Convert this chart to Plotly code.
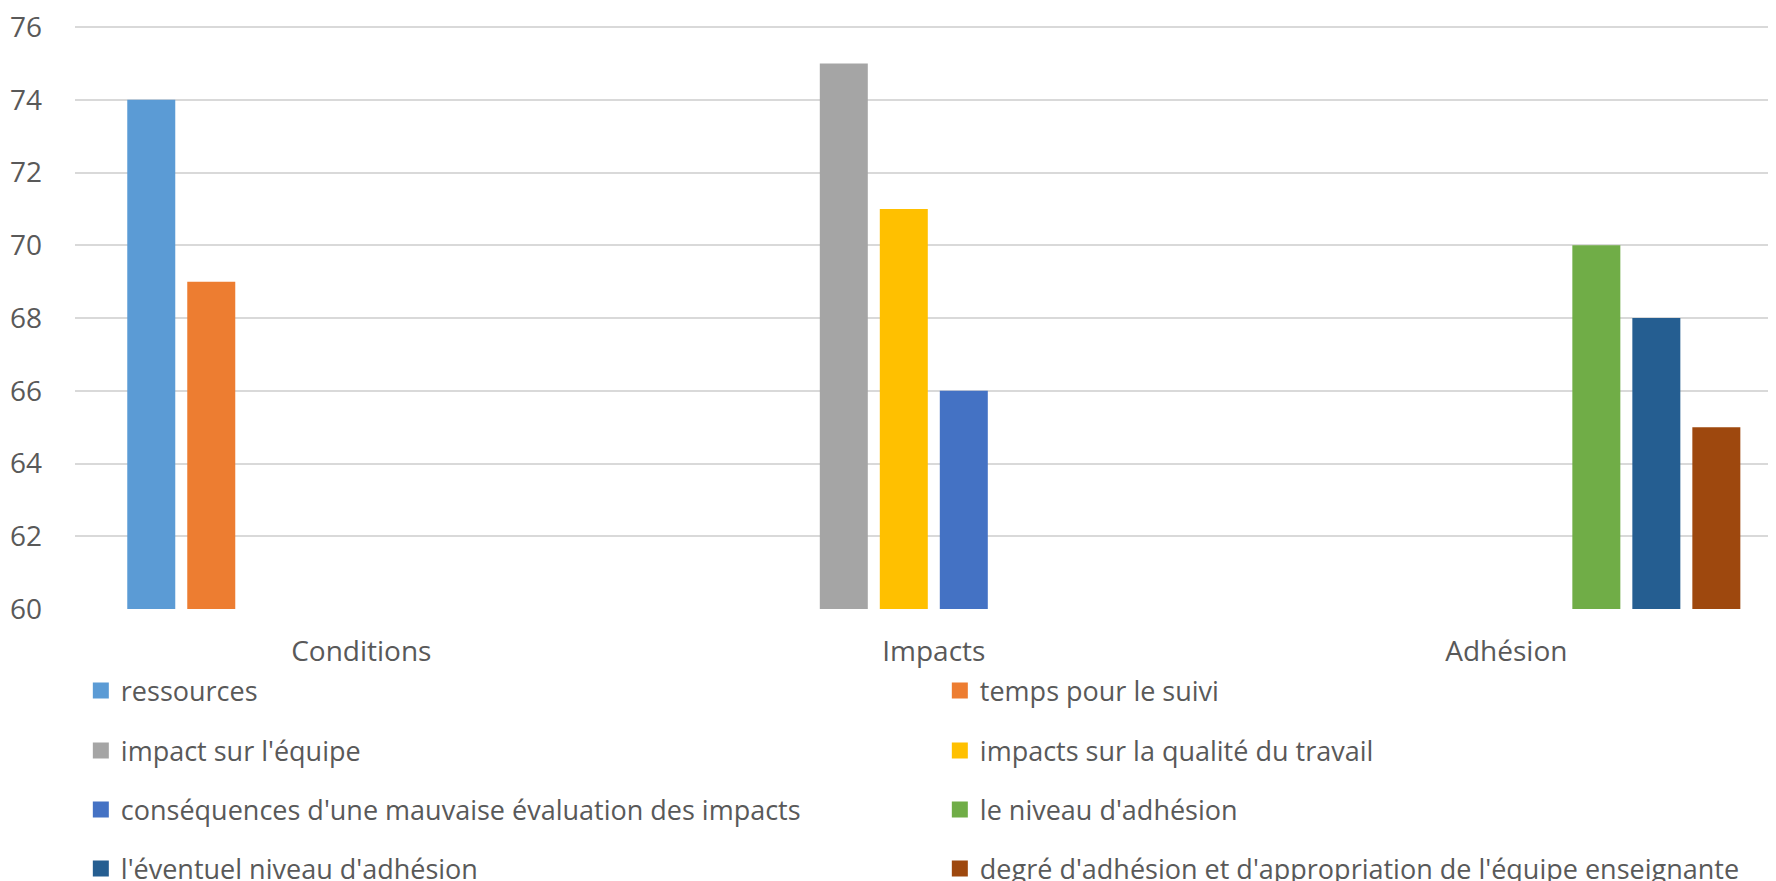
import plotly.graph_objects as go

categories = ["Conditions", "Impacts", "Adhésion"]
series_names = [
    "ressources",
    "temps pour le suivi",
    "impact sur l'équipe",
    "impacts sur la qualité du travail",
    "conséquences d'une mauvaise évaluation des impacts",
    "le niveau d'adhésion",
    "l'éventuel niveau d'adhésion",
    "degré d'adhésion et d'appropriation de l'équipe enseignante",
]
series_category = ["Conditions", "Conditions", "Impacts", "Impacts", "Impacts",
                   "Adhésion", "Adhésion", "Adhésion"]
series_values = [74, 69, 75, 71, 66, 70, 68, 65]
colors = ["#5B9BD5", "#ED7D31", "#A5A5A5", "#FFC000", "#4472C4",
          "#70AD47", "#255E91", "#9E480E"]
y_ticks = [60, 62, 64, 66, 68, 70, 72, 74, 76]

legend_ids = ["legend", "legend2", "legend3", "legend4"]

fig = go.Figure()
for i, (name, cat, val, col) in enumerate(zip(series_names, series_category, series_values, colors)):
    ys = [val if c == cat else None for c in categories]
    fig.add_trace(go.Bar(x=categories, y=ys, name=name, marker_color=col,
                         marker_line_width=0, showlegend=False, legendgroup=name))
# legend entries (square swatches) for each series
for i, (name, col) in enumerate(zip(series_names, colors)):
    fig.add_trace(go.Scatter(x=[None], y=[None], mode="markers", name=name,
                             marker=dict(symbol="square", size=16, color=col, line_width=0),
                             legend=legend_ids[i // 2], legendgroup=name,
                             hoverinfo="skip"))

# page body has an 8px margin, so figure coordinates are offset by 8px
fig_w, fig_h = 1768, 873
plot_top, plot_bottom = 18, 601
plot_h = plot_bottom - plot_top
row_centers = [683, 743, 802, 861]

legend_font = dict(family="Open Sans", size=27, color="#595959")
legends = {}
for lid, yc in zip(legend_ids, row_centers):
    legends[lid] = dict(
        orientation="h", x=-0.0001, xanchor="left",
        y=(plot_bottom - yc) / plot_h, yanchor="middle",
        entrywidth=814, entrywidthmode="pixels",
        font=legend_font, itemwidth=30, itemsizing="trace", traceorder="normal",
        bgcolor="rgba(0,0,0,0)", borderwidth=6, bordercolor="rgba(0,0,0,0)",
    )

fig.update_layout(
    width=fig_w, height=fig_h,
    margin=dict(l=67, r=0, t=plot_top, b=fig_h - plot_bottom, autoexpand=False),
    plot_bgcolor="white", paper_bgcolor="white",
    barmode="group", bargap=0.1616, bargroupgap=0.2,
    font=dict(family="Open Sans", color="#595959"),
    showlegend=True,
    **legends,
)
fig.update_xaxes(
    range=[-0.5, 2.471], showgrid=False, showline=False, ticks="",
    tickfont=dict(size=28, color="#595959"), ticklabelstandoff=23,
)
fig.update_yaxes(
    range=[60, 76.03], tickvals=y_ticks, showgrid=True, gridcolor="#D9D9D9",
    gridwidth=1.5, zeroline=False, showline=False, ticks="",
    tickfont=dict(size=28, color="#595959"), ticklabelstandoff=32,
    ticklabeloverflow="allow",
)

fig.write_html("out.html")
